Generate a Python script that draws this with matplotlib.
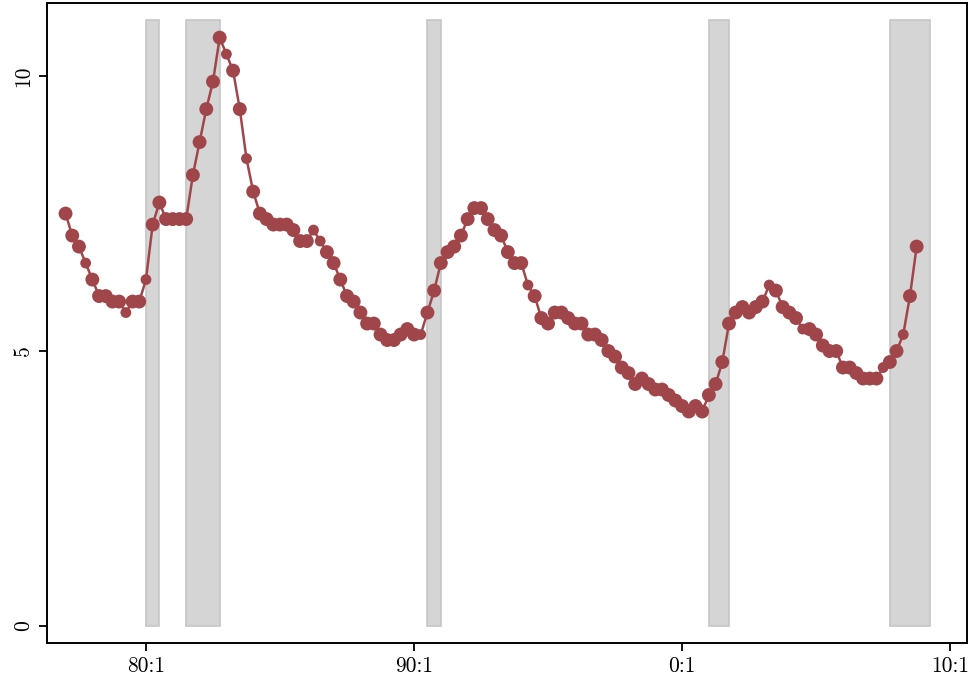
"""Quarterly unemployment rate with recession shading."""

import matplotlib

matplotlib.use("Agg")

import matplotlib.pyplot as plt
import numpy as np

# quarterly values, 1977:1 .. 2008:4
rate = [
    7.5, 7.1, 6.9, 6.6,  # 1977
    6.3, 6.0, 6.0, 5.9,  # 1978
    5.9, 5.7, 5.9, 5.9,  # 1979
    6.3, 7.3, 7.7, 7.4,  # 1980
    7.4, 7.4, 7.4, 8.2,  # 1981
    8.8, 9.4, 9.9, 10.7,  # 1982
    10.4, 10.1, 9.4, 8.5,  # 1983
    7.9, 7.5, 7.4, 7.3,  # 1984
    7.3, 7.3, 7.2, 7.0,  # 1985
    7.0, 7.2, 7.0, 6.8,  # 1986
    6.6, 6.3, 6.0, 5.9,  # 1987
    5.7, 5.5, 5.5, 5.3,  # 1988
    5.2, 5.2, 5.3, 5.4,  # 1989
    5.3, 5.3, 5.7, 6.1,  # 1990
    6.6, 6.8, 6.9, 7.1,  # 1991
    7.4, 7.6, 7.6, 7.4,  # 1992
    7.2, 7.1, 6.8, 6.6,  # 1993
    6.6, 6.2, 6.0, 5.6,  # 1994
    5.5, 5.7, 5.7, 5.6,  # 1995
    5.5, 5.5, 5.3, 5.3,  # 1996
    5.2, 5.0, 4.9, 4.7,  # 1997
    4.6, 4.4, 4.5, 4.4,  # 1998
    4.3, 4.3, 4.2, 4.1,  # 1999
    4.0, 3.9, 4.0, 3.9,  # 2000
    4.2, 4.4, 4.8, 5.5,  # 2001
    5.7, 5.8, 5.7, 5.8,  # 2002
    5.9, 6.2, 6.1, 5.8,  # 2003
    5.7, 5.6, 5.4, 5.4,  # 2004
    5.3, 5.1, 5.0, 5.0,  # 2005
    4.7, 4.7, 4.6, 4.5,  # 2006
    4.5, 4.5, 4.7, 4.8,  # 2007
    5.0, 5.3, 6.0, 6.9,  # 2008
]
start_year = 1977

# recessions as (start quarter, end quarter)
recessions = [
    ((1980, 1), (1980, 3)),
    ((1981, 3), (1982, 4)),
    ((1990, 3), (1991, 1)),
    ((2001, 1), (2001, 4)),
    ((2007, 4), (2009, 2)),
]

tick_years = [1980, 1990, 2000, 2010]
tick_labels = ["80:1", "90:1", "0:1", "10:1"]

# points drawn with a smaller dot
small_idx = [3, 9, 12, 24, 27, 37, 38, 53, 69, 105, 110, 122, 125]


def qpos(year, q):
    return year + (q - 1) / 4


plt.rcParams["font.family"] = ["cmr10", "DejaVu Serif"]
plt.rcParams["axes.formatter.use_mathtext"] = True

line_col = "#A0464B"

fig = plt.figure(figsize=(9.72, 6.8), dpi=100)
ax = fig.add_axes([0.0484, 0.0544, 0.9465, 0.9412])

x = start_year + np.arange(len(rate)) / 4
y = np.array(rate)
top = y.max() * 1.03

for (y0, q0), (y1, q1) in recessions:
    a, b = qpos(y0, q0), qpos(y1, q1)
    ax.bar(a, top, width=b - a, bottom=0, align="edge", color="#D5D5D5",
           edgecolor="#C6C6C6", linewidth=1.2, zorder=1)

sizes = np.full(len(y), 10.0)
sizes[small_idx] = 7.8
ax.plot(x, y, color=line_col, linewidth=1.8, zorder=2)
ax.scatter(x, y, s=sizes ** 2, color=line_col, edgecolors="none", zorder=3)

ax.set_xlim(1976.31, 2010.63)
ax.set_ylim(-0.31, 11.33)
ax.set_xticks(tick_years)
ax.set_xticklabels(tick_labels)
ax.set_yticks([0, 5, 10])
ax.set_yticklabels(["0", "5", "10"], rotation=90, va="center")
ax.tick_params(direction="out", length=6, width=1.3, labelsize=15.5, pad=4)
for s in ax.spines.values():
    s.set_linewidth(1.4)

fig.savefig("out.png", dpi=100)
